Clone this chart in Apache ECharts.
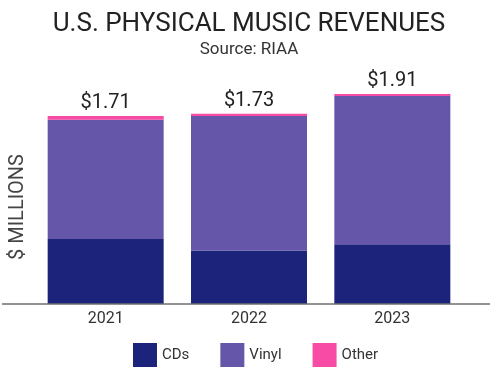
<!DOCTYPE html>
<html>
<head>
<meta charset="utf-8">
<script src="https://cdn.jsdelivr.net/npm/echarts@6/dist/echarts.min.js"></script>
<style>
  html, body { margin: 0; padding: 0; background: #fff; }
  #chart { width: 498px; height: 377px; }
</style>
</head>
<body>
<div id="chart"></div>
<script>
// values in $ billions
const years = ['2021', '2022', '2023'];
const cds = [0.59, 0.485, 0.543];
const vinyl = [1.085, 1.225, 1.347];
const other = [0.035, 0.02, 0.02];
const totals = ['$1.71', '$1.73', '$1.91'];

const chart = echarts.init(document.getElementById('chart'));

const font = 'Roboto, "Noto Sans", sans-serif';

const option = {
  animation: false,
  textStyle: { fontFamily: font },
  title: {
    text: 'U.S. PHYSICAL MUSIC REVENUES',
    subtext: 'Source: RIAA',
    left: 'center',
    top: 6,
    itemGap: 4,
    textStyle: { fontSize: 26, fontWeight: 'normal', color: '#222', fontFamily: font },
    subtextStyle: { fontSize: 17, color: '#333', fontFamily: font }
  },
  grid: {
    left: 30,
    right: 34,
    top: 84,
    bottom: 73
  },
  legend: {
    bottom: 5,
    left: 128,
    itemWidth: 24,
    itemHeight: 24,
    itemGap: 31,
    icon: 'rect',
    textStyle: { fontSize: 15, color: '#333', fontFamily: font },
    data: ['CDs', 'Vinyl', 'Other']
  },
  xAxis: {
    type: 'category',
    data: years,
    axisLine: { show: false },
    axisTick: { show: false },
    axisLabel: { fontSize: 16, color: '#333', margin: 7 }
  },
  yAxis: {
    type: 'value',
    min: 0,
    max: 2,
    name: '$ MILLIONS',
    nameLocation: 'middle',
    nameRotate: 90,
    nameGap: 6,
    nameTextStyle: { fontSize: 20, color: '#444', padding: [0, 26, 0, 0] },
    axisLine: { show: false },
    axisTick: { show: false },
    axisLabel: { show: false },
    splitLine: { show: false }
  },
  graphic: [
    {
      type: 'line',
      shape: { x1: 2, y1: 304, x2: 490, y2: 304 },
      style: { stroke: '#6f6f6f', lineWidth: 1.5 },
      z: 10
    }
  ],
  series: [
    {
      name: 'CDs',
      type: 'bar',
      stack: 'total',
      barWidth: 116,
      data: cds,
      itemStyle: { color: '#1b237b' }
    },
    {
      name: 'Vinyl',
      type: 'bar',
      stack: 'total',
      data: vinyl,
      itemStyle: { color: '#6556aa' }
    },
    {
      name: 'Other',
      type: 'bar',
      stack: 'total',
      data: other,
      itemStyle: { color: '#f74ba5' },
      label: {
        show: true,
        position: 'top',
        distance: 3,
        fontSize: 20,
        color: '#222',
        formatter: function (p) {
          return totals[p.dataIndex];
        }
      }
    }
  ]
};

chart.setOption(option);
</script>
</body>
</html>
